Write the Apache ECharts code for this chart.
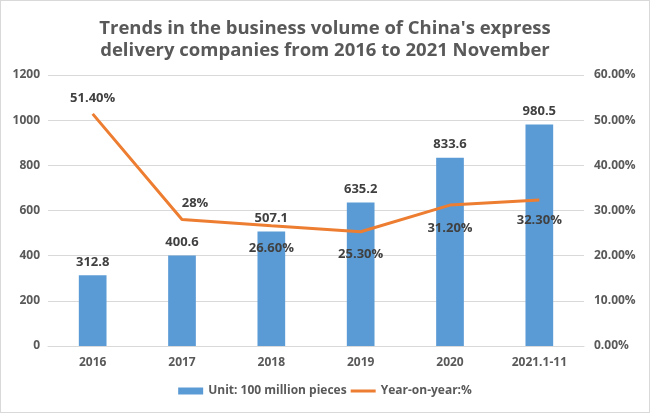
<!DOCTYPE html>
<html><head><meta charset="utf-8">
<script src="https://cdn.jsdelivr.net/npm/echarts@6/dist/echarts.min.js"></script>
<style>html,body{margin:0;padding:0;background:#fff}#c{width:648px;height:411px;border:1px solid #d9d9d9}</style>
</head><body><div id="c"></div>
<script>
const categories = ['2016','2017','2018','2019','2020','2021.1-11'];
const volume = [312.8, 400.6, 507.1, 635.2, 833.6, 980.5];
const yoy = [51.4, 28, 26.6, 25.3, 31.2, 32.3];
const yoyLabels = ['51.40%','28%','26.60%','25.30%','31.20%','32.30%'];
const leftTicks = [0,200,400,600,800,1000,1200];
const rightTicks = ['0.00%','10.00%','20.00%','30.00%','40.00%','50.00%','60.00%'];

const font = '"Open Sans", "Noto Sans", sans-serif';
const chart = echarts.init(document.getElementById('c'));
const lblPos = [['top',[0,1]],['top',[13,0]],['bottom',[0,6]],['bottom',[0,6]],['bottom',[0,7]],['bottom',[0,4]]];
chart.setOption({
  animation:false,
  textStyle:{fontFamily:font},
  title:{text:"Trends in the business volume of China's express\ndelivery companies from 2016 to 2021 November",left:'center',top:12,
    textStyle:{fontFamily:font,fontSize:18.5,fontWeight:'bold',color:'#595959',lineHeight:22}},
  legend:{bottom:10,left:'center',itemGap:4,itemWidth:25,itemHeight:7,
    textStyle:{fontFamily:font,fontSize:12,fontWeight:'bold',color:'#595959'},
    data:[{name:'Unit: 100 million pieces',icon:'rect'},{name:'Year-on-year:%',icon:'path://M0,0H25V3H0Z'}]},
  grid:{left:47,right:65,top:74,bottom:66},
  xAxis:{type:'category',data:categories,axisTick:{show:false},
    axisLine:{lineStyle:{color:'#d9d9d9'}},
    axisLabel:{color:'#595959',fontSize:12,fontWeight:'bold',margin:11,fontFamily:font}},
  yAxis:[
    {type:'value',min:0,max:1200,interval:200,
     axisLabel:{color:'#595959',fontSize:12,fontWeight:'bold',margin:8,fontFamily:font,
       formatter:(v)=>String(v)},
     splitLine:{lineStyle:{color:'#d9d9d9'}},axisLine:{show:false},axisTick:{show:false}},
    {type:'value',min:0,max:60,interval:10,
     axisLabel:{color:'#595959',fontSize:12,fontWeight:'bold',margin:10,fontFamily:font,
       formatter:(v)=>rightTicks[Math.round(v/10)]},
     splitLine:{show:false},axisLine:{show:false},axisTick:{show:false}}
  ],
  series:[
    {name:'Unit: 100 million pieces',type:'bar',data:volume,barWidth:'31%',
     itemStyle:{color:'#5B9BD5'},
     label:{show:true,position:'top',distance:7,color:'#404040',fontSize:13,fontWeight:'bold',fontFamily:font}},
    {name:'Year-on-year:%',type:'line',yAxisIndex:1,symbol:'circle',symbolSize:0.1,showSymbol:true,
     lineStyle:{color:'#ED7D31',width:3},itemStyle:{color:'#ED7D31'},
     data:yoy.map((v,i)=>({value:v,label:{show:true,position:lblPos[i][0],offset:lblPos[i][1],distance:10,
       formatter:yoyLabels[i],color:'#404040',fontSize:13,fontWeight:'bold',fontFamily:font}}))}
  ]
});
</script></body></html>
